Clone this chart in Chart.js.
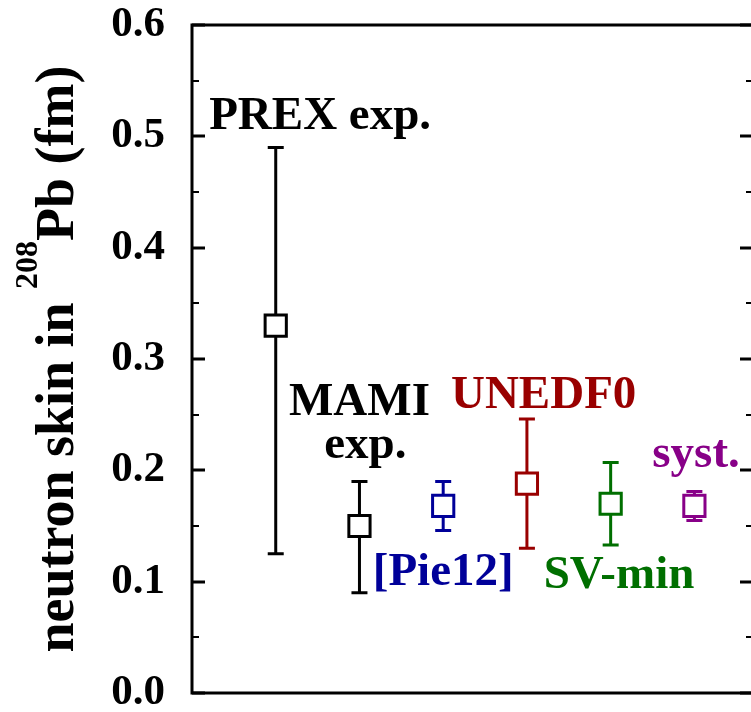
<!DOCTYPE html>
<html><head><meta charset="utf-8">
<script src="https://cdn.jsdelivr.net/npm/chart.js@4/dist/chart.umd.min.js"></script>
<style>html,body{margin:0;padding:0;overflow:hidden;background:#fff}
#wrap{position:absolute;left:0;top:0;width:760px;height:720px}</style>
</head><body><div id="wrap"><canvas id="c" width="760" height="720"></canvas></div>
<script>
// ---- data ----
const categories = ['PREX exp.', 'MAMI exp.', '[Pie12]', 'UNEDF0', 'SV-min', 'syst.'];
const positions = [1, 2, 3, 4, 5, 6];
const values = [0.33, 0.15, 0.168, 0.188, 0.170, 0.168];
const lowerBounds = [0.125, 0.09, 0.146, 0.130, 0.133, 0.155];
const upperBounds = [0.49, 0.19, 0.19, 0.246, 0.207, 0.181];
const yTickValues = [0.0, 0.1, 0.2, 0.3, 0.4, 0.5, 0.6];

// ---- styles ----
const colors = ['#000000', '#000000', '#000099', '#990000', '#006f00', '#880088'];
const labelSpecs = [ // text, color index, x (data), y (data)
  {text: 'PREX exp.', c: 0, x: 1.53, y: 0.5065},
  {text: 'MAMI', c: 1, x: 2.0, y: 0.250},
  {text: 'exp.', c: 1, x: 2.07, y: 0.211},
  {text: '[Pie12]', c: 2, x: 3.0, y: 0.097},
  {text: 'UNEDF0', c: 3, x: 4.2, y: 0.256},
  {text: 'SV-min', c: 4, x: 5.1, y: 0.094},
  {text: 'syst.', c: 5, x: 6.02, y: 0.203}
];
const SERIF = '"Liberation Serif", "Times New Roman", serif';

const decor = {
  id: 'decor',
  beforeDatasetsDraw(chart) {
    const {ctx, scales: {x, y}} = chart;
    ctx.save();
    ctx.lineWidth = 3;
    ctx.lineCap = 'butt';
    positions.forEach((p, i) => {
      const px = x.getPixelForValue(p);
      const yl = y.getPixelForValue(lowerBounds[i]);
      const yh = y.getPixelForValue(upperBounds[i]);
      ctx.strokeStyle = colors[i];
      ctx.beginPath();
      ctx.moveTo(px, yl); ctx.lineTo(px, yh);
      ctx.moveTo(px - 8, yl); ctx.lineTo(px + 8, yl);
      ctx.moveTo(px - 8, yh); ctx.lineTo(px + 8, yh);
      ctx.stroke();
    });
    ctx.restore();
  },
  afterDraw(chart) {
    const {ctx, chartArea: a, scales: {x, y}} = chart;
    ctx.save();
    // frame
    ctx.strokeStyle = '#000';
    ctx.lineWidth = 3;
    ctx.strokeRect(a.left, a.top, a.right - a.left, a.bottom - a.top);
    // inward ticks
    for (let v = 0; v <= 0.6001; v += 0.05) {
      const py = Math.round(y.getPixelForValue(v));
      const major = Math.abs(v * 10 - Math.round(v * 10)) < 1e-6;
      const len = major ? 13 : 7;
      ctx.lineWidth = major ? 3 : 2;
      ctx.beginPath();
      ctx.moveTo(a.left, py); ctx.lineTo(a.left + len, py);
      ctx.moveTo(a.right, py); ctx.lineTo(a.right - len, py);
      ctx.stroke();
    }
    // labels
    ctx.font = 'bold 47px ' + SERIF;
    ctx.textAlign = 'center';
    ctx.textBaseline = 'alphabetic';
    labelSpecs.forEach(l => {
      ctx.fillStyle = colors[l.c];
      ctx.fillText(l.text, x.getPixelForValue(l.x), y.getPixelForValue(l.y));
    });
    // y title with superscript
    const parts = [
      {t: 'neutron skin in ', f: 'bold 54px ' + SERIF, r: 0},
      {t: '208', f: 'bold 32px ' + SERIF, r: 36},
      {t: 'Pb (fm)', f: 'bold 54px ' + SERIF, r: 0}
    ];
    let total = 0;
    parts.forEach(p => { ctx.font = p.f; p.w = ctx.measureText(p.t).width; total += p.w; });
    ctx.translate(73, 359);
    ctx.rotate(-Math.PI / 2);
    ctx.fillStyle = '#000';
    ctx.textAlign = 'left';
    let cx = -total / 2;
    parts.forEach(p => { ctx.font = p.f; ctx.fillText(p.t, cx, -p.r); cx += p.w; });
    ctx.restore();
  }
};

new Chart(document.getElementById('c'), {
  type: 'scatter',
  data: {
    datasets: [{
      data: positions.map((p, i) => ({x: p, y: values[i]})),
      pointStyle: 'rect',
      pointRadius: 15,
      pointHoverRadius: 15,
      pointBorderWidth: 3,
      pointBorderColor: colors,
      pointBackgroundColor: '#ffffff',
      showLine: false,
      clip: false
    }]
  },
  options: {
    responsive: false,
    devicePixelRatio: 1,
    animation: false,
    layout: {autoPadding: false, padding: {left: 0, top: 25, right: 7, bottom: 27}},
    plugins: {legend: {display: false}, tooltip: {enabled: false}},
    scales: {
      x: {type: 'linear', min: 0, max: 6.7, display: false},
      y: {
        min: 0, max: 0.6,
        afterBuildTicks: s => { s.ticks = yTickValues.map(v => ({value: v})); },
        afterFit: s => { s.width = 192; s.paddingTop = 0; s.paddingBottom = 0; },
        ticks: {
          color: '#000', padding: 27,
          font: {family: SERIF, size: 43, weight: 'bold'},
          callback: v => Number(v).toFixed(1)
        },
        grid: {display: false, drawTicks: false},
        border: {display: false}
      }
    }
  },
  plugins: [decor]
});
</script>
</body></html>
